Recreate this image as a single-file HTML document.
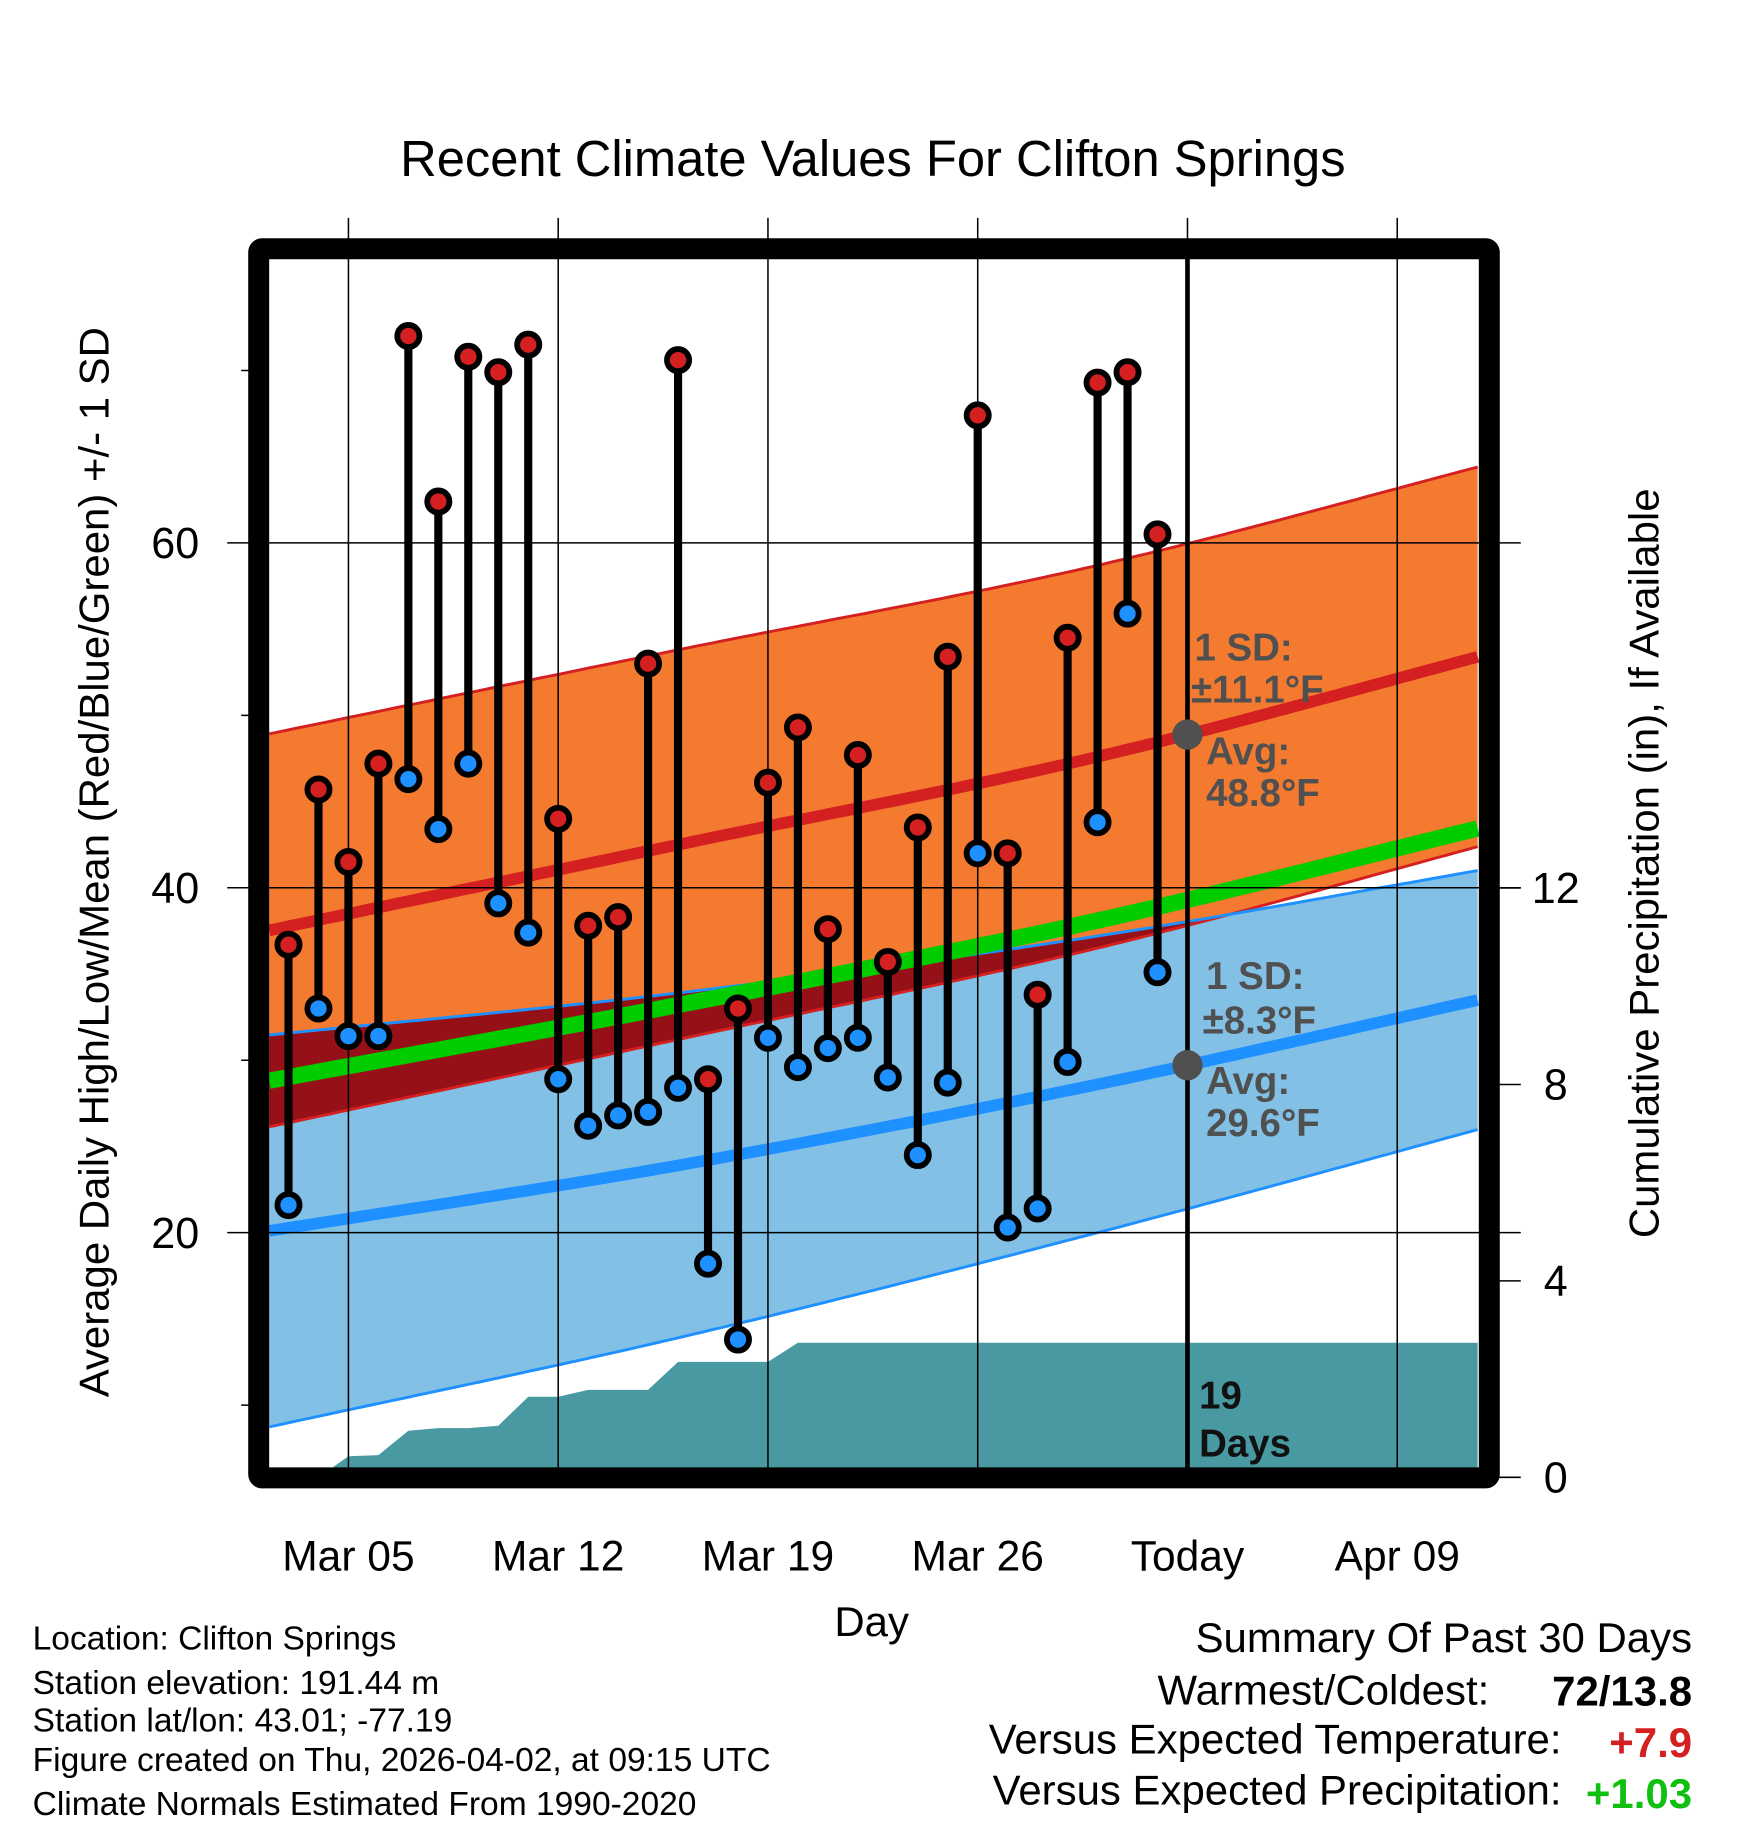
<!DOCTYPE html>
<html><head><meta charset="utf-8"><style>
html,body{margin:0;padding:0;background:#fff}
svg{display:block}
text{font-family:"Liberation Sans",sans-serif}
</style></head><body>
<svg id="chart" width="1748" height="1828" viewBox="0 0 1500 1569" preserveAspectRatio="none" xmlns="http://www.w3.org/2000/svg">
<g id="bands"></g>
<g id="precip"></g>
<g id="grid"></g>
<g id="marks"></g>
<g id="frame"></g>
<g id="labels">
<text x="749" y="151" font-size="43.5" text-anchor="middle">Recent Climate Values For Clifton Springs</text>
<text x="748" y="1404" font-size="36" text-anchor="middle">Day</text>
<text transform="translate(93,740) rotate(-90)" font-size="36" text-anchor="middle">Average Daily High/Low/Mean (Red/Blue/Green) +/- 1 SD</text>
<text transform="translate(1423,741) rotate(-90)" font-size="36" text-anchor="middle">Cumulative Precipitation (in), If Available</text>
<g fill="#505050" font-weight="bold" font-size="33">
<text x="1025" y="567">1 SD:</text><text x="1022" y="603">±11.1°F</text>
<text x="1035" y="656">Avg:</text><text x="1035" y="692">48.8°F</text></g>
<g fill="#505050" font-weight="bold" font-size="33">
<text x="1035" y="849">1 SD:</text><text x="1032" y="887">±8.3°F</text>
<text x="1035" y="939">Avg:</text><text x="1035" y="975">29.6°F</text></g>
<text x="1029" y="1209" font-size="33" font-weight="bold" fill="#111">19</text>
<text x="1029" y="1250" font-size="33" font-weight="bold" fill="#111">Days</text>
<g font-size="28.8">
<text x="28" y="1416">Location: Clifton Springs</text>
<text x="28" y="1454">Station elevation: 191.44 m</text>
<text x="28" y="1486">Station lat/lon: 43.01; -77.19</text>
<text x="28" y="1520">Figure created on Thu, 2026-04-02, at 09:15 UTC</text>
<text x="28" y="1558">Climate Normals Estimated From 1990-2020</text></g>
<g font-size="36">
<text x="1452" y="1418" text-anchor="end">Summary Of Past 30 Days</text>
<text x="1278" y="1463" text-anchor="end">Warmest/Coldest:</text>
<text x="1452" y="1464" text-anchor="end" font-weight="bold">72/13.8</text>
<text x="1340" y="1505" text-anchor="end">Versus Expected Temperature:</text>
<text x="1452" y="1508" text-anchor="end" font-weight="bold" fill="#d42020">+7.9</text>
<text x="1340" y="1549" text-anchor="end">Versus Expected Precipitation:</text>
<text x="1452" y="1552" text-anchor="end" font-weight="bold" fill="#10c010">+1.03</text></g>
</g>
</svg>
<script>
// ---- data ----
const days = [3,4,5,6,7,8,9,10,11,12,13,14,15,16,17,18,19,20,21,22,23,24,25,26,27,28,29,30,31,32];
const highs = [36.7,45.7,41.5,47.2,72.0,62.4,70.8,69.9,71.5,44.0,37.8,38.3,53.0,70.6,28.9,33.0,46.1,49.3,37.6,47.7,35.7,43.5,53.4,67.4,42.0,33.8,54.5,69.3,69.9,60.5];
const lows = [21.6,33.0,31.4,31.4,46.3,43.4,47.2,39.1,37.4,28.9,26.2,26.8,27.0,28.4,18.2,13.8,31.3,29.6,30.7,31.3,29.0,24.5,28.7,42.0,20.3,21.4,29.9,43.8,55.9,35.1];
const precip = [0,0,0.43,0.45,0.95,1.0,1.0,1.05,1.64,1.64,1.78,1.78,1.78,2.35,2.35,2.35,2.35,2.74,2.74,2.74,2.74,2.74,2.74,2.74,2.74,2.74,2.74,2.74,2.74,2.74];
const normDays = [2,16,30,44];
const normHigh = [37.4,42.5,47.6,54.0];
const normHighSD = [11.4,11.3,11.1,11.0];
const normLow = [20.0,23.9,28.6,34.0];
const normLowSD = [11.4,10.0,8.6,7.4];
const xTickDays = [5,12,19,26,33,40];
const xTickLabels = ["Mar 05","Mar 12","Mar 19","Mar 26","Today","Apr 09"];
const yTicks = [20,40,60];
const yMinor = [10,30,50,70];
const y2Ticks = [0,4,8,12];
const todayDay = 33;

// ---- scales ----
const X0=231, X1=1268;
const x = d => 299 + (d-5)*180/7;
const y = t => 762 - (t-40)*14.8;
const yp = p => 1268 - p*42.15;
const NS="http://www.w3.org/2000/svg";
function mk(tag, attrs, parent){const e=document.createElementNS(NS,tag);for(const k in attrs)e.setAttribute(k,attrs[k]);parent.appendChild(e);return e;}
function interp(arr, d){
  const n=normDays.length;
  let i=0;while(i<n-2&&d>normDays[i+1])i++;
  const t=(d-normDays[i])/(normDays[i+1]-normDays[i]);
  const p0=i>0?arr[i-1]:2*arr[i]-arr[i+1];
  const p1=arr[i],p2=arr[i+1];
  const p3=i+2<n?arr[i+2]:2*arr[i+1]-arr[i];
  const t2=t*t,t3=t2*t;
  return 0.5*((2*p1)+(-p0+p2)*t+(2*p0-5*p1+4*p2-p3)*t2+(-p0+3*p1-3*p2+p3)*t3);
}
const dStart=(X0-299)*7/180+5, dEnd=(X1-299)*7/180+5;
const samples=[];for(let i=0;i<=120;i++)samples.push(dStart+(dEnd-dStart)*i/120);
const hm=d=>interp(normHigh,d), hs=d=>interp(normHighSD,d), lm=d=>interp(normLow,d), ls=d=>interp(normLowSD,d);
function line(f){return samples.map(d=>x(d).toFixed(1)+","+y(f(d)).toFixed(1)).join(" ");}
function band(fu,fl){return samples.map(d=>x(d).toFixed(1)+","+y(fu(d)).toFixed(1)).join(" ")+" "+samples.slice().reverse().map(d=>x(d).toFixed(1)+","+y(fl(d)).toFixed(1)).join(" ");}
const B=document.getElementById('bands');
let e;
e=mk('polygon',{points:band(d=>lm(d)+ls(d),d=>lm(d)-ls(d)),fill:"#82c0e6"},B);


e=mk('polygon',{points:band(d=>hm(d)+hs(d),d=>hm(d)-hs(d)),fill:"#f47a30"},B);


e=mk('polygon',{points:band(d=>lm(d)+ls(d),d=>Math.min(hm(d)-hs(d),lm(d)+ls(d))),fill:"#961018"},B);


const edges=[[d=>hm(d)+hs(d),"#d42020",2.5],[d=>hm(d)-hs(d),"#d42020",2.5],[d=>lm(d)+ls(d),"#1e90ff",2.5],[d=>lm(d)-ls(d),"#1e90ff",2.5],
 [d=>(hm(d)+lm(d))/2,"#00cc00",14],[hm,"#d42020",10],[lm,"#1e90ff",10]];
const edgeNames=['high-upper-edge','high-lower-edge','low-upper-edge','low-lower-edge','mean-line','high-mean-line','low-mean-line'];
edges.forEach((a,i)=>{const l=mk('polyline',{points:line(a[0]),fill:"none",stroke:a[1],"stroke-width":a[2]},B);

});
// precip
const P=document.getElementById('precip');
let pts=[x(days[0]).toFixed(1)+","+yp(0)];
days.forEach((d,i)=>pts.push(x(d).toFixed(1)+","+yp(precip[i]).toFixed(1)));
pts.push(X1+","+yp(precip[precip.length-1]).toFixed(1));pts.push(X1+","+yp(0));
e=mk('polygon',{points:pts.join(" "),fill:"#4899a2"},P);


// grid
const G=document.getElementById('grid');
xTickDays.forEach((d,i)=>{const l=mk('line',{x1:x(d),x2:x(d),y1:187,y2:1268,stroke:"#000","stroke-width":1.3},G);


const t=mk('text',{x:x(d),y:1348,"font-size":36.5,"text-anchor":"middle"},G);t.textContent=xTickLabels[i];

});
yTicks.forEach(v=>{const l=mk('line',{x1:195,x2:1305,y1:y(v),y2:y(v),stroke:"#000","stroke-width":1.3},G);


const t=mk('text',{x:171,y:y(v)+13,"font-size":37,"text-anchor":"end"},G);t.textContent=v;

});
yMinor.forEach(v=>{const l=mk('line',{x1:207,x2:222,y1:y(v),y2:y(v),stroke:"#000","stroke-width":1.3},G);

});
y2Ticks.forEach(v=>{const l=mk('line',{x1:1278,x2:1305,y1:yp(v),y2:yp(v),stroke:"#000","stroke-width":1.3},G);


const t=mk('text',{x:1335,y:yp(v)+13,"font-size":37,"text-anchor":"middle"},G);t.textContent=v;

});
// marks
const M=document.getElementById('marks');
e=mk('line',{x1:x(todayDay),x2:x(todayDay),y1:218,y2:1268,stroke:"#000","stroke-width":4},M);


[[hm,"high-avg-dot"],[lm,"low-avg-dot"]].forEach(a=>{const c=mk('circle',{cx:x(todayDay),cy:y(a[0](todayDay)),r:13,fill:"#505050"},M);

});
days.forEach((d,i)=>{
 const s=mk('line',{x1:x(d),x2:x(d),y1:y(highs[i]),y2:y(lows[i]),stroke:"#000","stroke-width":7},M);
 
 
 const h=mk('circle',{cx:x(d),cy:y(highs[i]),r:9.5,fill:"#d42020",stroke:"#000","stroke-width":5},M);
 
 
 const l=mk('circle',{cx:x(d),cy:y(lows[i]),r:9.5,fill:"#1e90ff",stroke:"#000","stroke-width":5},M);
 
 
});
// frame
const F=document.getElementById('frame');
e=mk('rect',{x:222,y:213.5,width:1056,height:1055,fill:"none",stroke:"#000","stroke-width":18,rx:3},F);


</script>
</body></html>
